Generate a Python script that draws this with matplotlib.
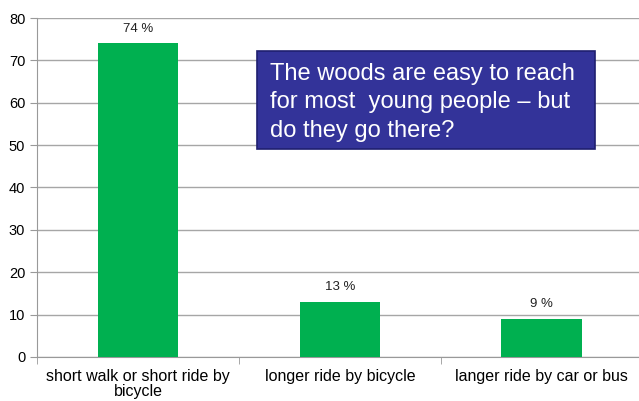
import matplotlib.pyplot as plt
from matplotlib.patches import Rectangle
import numpy as np

plt.rcParams['font.family'] = ['Liberation Sans', 'DejaVu Sans']

categories = ['short walk or short ride by\nbicycle', 'longer ride by bicycle', 'langer ride by car or bus']
values = [74, 13, 9]
labels = ['74 %', '13 %', '9 %']
note_lines = ['The woods are easy to reach', 'for most  young people \u2013 but', 'do they go there?']

fig = plt.figure(figsize=(6.39, 4.01), dpi=100)
ax = fig.add_axes([0.058, 0.11, 0.948, 0.845])

x = np.arange(len(categories))
bars = ax.bar(x, values, width=0.4, color='#00B050', zorder=3)
for b, lab in zip(bars, labels):
    ax.text(b.get_x() + b.get_width() / 2, b.get_height() + 2, lab,
            ha='center', va='bottom', fontsize=9.5, color='#222222')

ax.set_xlim(-0.5, 2.5)
ax.set_ylim(0, 80)
ax.set_yticks(range(0, 81, 10))
ax.set_xticks(x)
ax.set_xticklabels(categories, fontsize=11.5, linespacing=0.95)
ax.set_xticks([-0.5, 0.5, 1.5, 2.5], minor=True)
ax.tick_params(axis='x', which='major', length=0, pad=9)
ax.tick_params(axis='x', which='minor', length=5, color='#999999')
ax.tick_params(axis='y', labelsize=10.5, length=5, color='#999999')
ax.grid(axis='y', color='#A6A6A6', linewidth=1, zorder=0)
for s in ['top', 'right']:
    ax.spines[s].set_visible(False)
ax.spines['left'].set_color('#999999')
ax.spines['bottom'].set_color('#999999')

# blue note box
fig.patches.append(Rectangle((0.402, 0.628), 0.529, 0.245, transform=fig.transFigure,
                             facecolor='#333399', edgecolor='#1F1F6F', linewidth=1.2, zorder=5))
for line, yb in zip(note_lines, [0.800, 0.731, 0.658]):
    fig.text(0.4225, yb, line, fontsize=17, color='white', ha='left', va='baseline', zorder=6)

fig.savefig('out.png', dpi=100)
